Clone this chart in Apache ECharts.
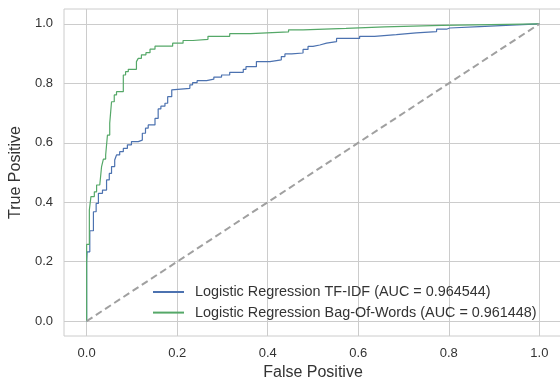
<!DOCTYPE html>
<html>
<head>
<meta charset="utf-8">
<script src="https://cdn.jsdelivr.net/npm/echarts@6/dist/echarts.min.js"></script>
<style>
  html, body { margin: 0; padding: 0; background: #fff; }
  #chart { width: 560px; height: 382px; }
</style>
</head>
<body>
<div id="chart"></div>
<script>
// ROC points: at each fpr the curve rises to tpr
const tfidfFpr = [0, 0, 0.001, 0.007, 0.015, 0.021, 0.026, 0.035, 0.044, 0.050, 0.055, 0.062, 0.066, 0.073, 0.081, 0.090, 0.099, 0.114, 0.123, 0.130, 0.136, 0.151, 0.158, 0.164, 0.173, 0.179, 0.188, 0.191, 0.228, 0.234, 0.244, 0.265, 0.281, 0.298, 0.316, 0.346, 0.352, 0.375, 0.405, 0.430, 0.438, 0.453, 0.478, 0.489, 0.500, 0.515, 0.530, 0.552, 0.603, 0.636, 0.684, 0.728, 0.773, 0.795, 0.802, 0.868, 0.938, 1.0];
const tfidfTpr = [0, 0.200, 0.233, 0.304, 0.368, 0.396, 0.430, 0.441, 0.475, 0.497, 0.520, 0.542, 0.559, 0.570, 0.581, 0.593, 0.604, 0.609, 0.632, 0.649, 0.660, 0.682, 0.714, 0.723, 0.733, 0.755, 0.778, 0.783, 0.795, 0.802, 0.809, 0.814, 0.821, 0.828, 0.837, 0.847, 0.856, 0.873, 0.879, 0.890, 0.899, 0.902, 0.914, 0.924, 0.929, 0.935, 0.940, 0.951, 0.958, 0.964, 0.970, 0.974, 0.982, 0.986, 0.991, 0.996, 1.0, 1.0];

const bowFpr = [0, 0, 0.006, 0.0095, 0.017, 0.022, 0.029, 0.033, 0.037, 0.042, 0.046, 0.051, 0.055, 0.061, 0.066, 0.081, 0.086, 0.092, 0.110, 0.114, 0.121, 0.131, 0.140, 0.151, 0.190, 0.213, 0.235, 0.268, 0.316, 0.362, 0.446, 0.478, 0.573, 0.658, 0.784, 1.0];
const bowTpr = [0, 0.258, 0.374, 0.419, 0.435, 0.458, 0.464, 0.520, 0.545, 0.559, 0.626, 0.666, 0.738, 0.761, 0.772, 0.828, 0.839, 0.847, 0.873, 0.884, 0.896, 0.903, 0.915, 0.925, 0.935, 0.944, 0.948, 0.958, 0.967, 0.973, 0.980, 0.985, 0.990, 0.995, 1.0, 1.0];

const chanceLine = [[0, 0], [1, 1]];
const tickValues = [0, 0.2, 0.4, 0.6, 0.8, 1.0];
const seriesNames = ['Logistic Regression TF-IDF (AUC = 0.964544)', 'Logistic Regression Bag-Of-Words (AUC = 0.961448)'];

const zip = (xs, ys) => xs.map((x, i) => [x, ys[i]]);
const textColor = '#333333';
const gridColor = '#cccccc';
const font = 'Liberation Sans, Arial, sans-serif';

const chart = echarts.init(document.getElementById('chart'));
chart.setOption({
  animation: false,
  backgroundColor: '#fff',
  textStyle: { fontFamily: font },
  grid: {
    left: 64, top: 9, width: 498, height: 327,
    outerBoundsMode: 'none',
    show: true, borderColor: gridColor, borderWidth: 1,
    backgroundColor: 'transparent'
  },
  legend: {
    data: seriesNames,
    orient: 'vertical',
    left: 152, top: 285, padding: 0,
    itemWidth: 31, itemHeight: 14, itemGap: 6.6,
    itemStyle: { opacity: 0 },
    textStyle: { color: textColor, fontSize: 14.4, fontFamily: font, padding: [0, 0, 0, 6] }
  },
  xAxis: {
    type: 'value', min: -0.05, max: 1.05,
    name: 'False Positive', nameLocation: 'middle', nameGap: 27,
    nameTextStyle: { color: textColor, fontSize: 16, fontFamily: font },
    axisLine: { show: false },
    axisTick: { show: false, customValues: tickValues },
    axisLabel: { customValues: tickValues, color: textColor, fontSize: 13, margin: 11,
      formatter: v => v.toFixed(1) },
    splitLine: { show: true, lineStyle: { color: gridColor, width: 1 } }
  },
  yAxis: {
    type: 'value', min: -0.05, max: 1.05,
    name: 'True Positive', nameLocation: 'middle', nameGap: 39,
    nameTextStyle: { color: textColor, fontSize: 16, fontFamily: font },
    axisLine: { show: false },
    axisTick: { show: false, customValues: tickValues },
    axisLabel: { customValues: tickValues, color: textColor, fontSize: 13, margin: 11,
      formatter: v => v.toFixed(1) },
    splitLine: { show: true, lineStyle: { color: gridColor, width: 1 } }
  },
  series: [
    {
      name: seriesNames[0], type: 'line', step: 'end', symbol: 'none',
      data: zip(tfidfFpr, tfidfTpr),
      lineStyle: { color: '#4c72b0', width: 1.2 }, itemStyle: { color: '#4c72b0' }
    },
    {
      name: seriesNames[1], type: 'line', step: 'end', symbol: 'none',
      data: zip(bowFpr, bowTpr),
      lineStyle: { color: '#55a868', width: 1.2 }, itemStyle: { color: '#55a868' }
    },
    {
      name: 'chance', type: 'line', symbol: 'none', silent: true,
      data: chanceLine,
      lineStyle: { color: '#a0a0a0', width: 2, type: [7, 4] }
    }
  ]
});
</script>
</body>
</html>
